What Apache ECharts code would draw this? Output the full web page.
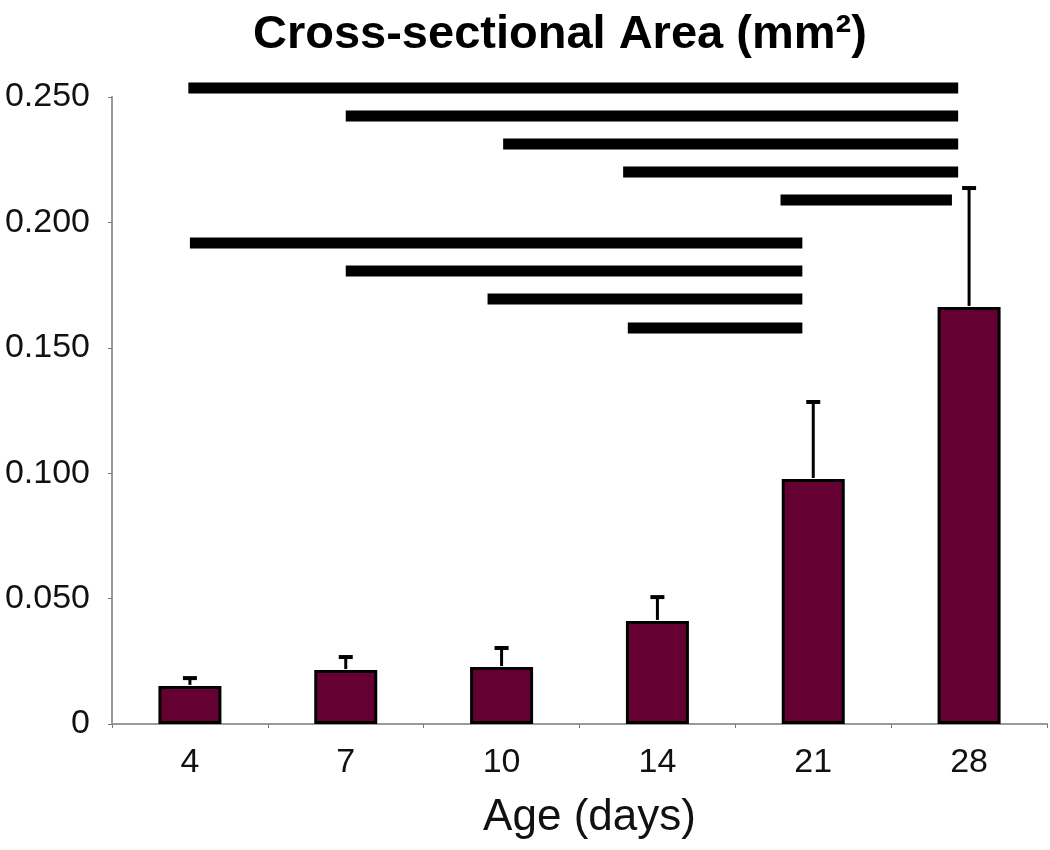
<!DOCTYPE html>
<html>
<head>
<meta charset="utf-8">
<script src="https://cdn.jsdelivr.net/npm/echarts@6/dist/echarts.min.js"></script>
<style>
html,body{margin:0;padding:0;background:#fff;}
#chart{width:1050px;height:850px;}
</style>
</head>
<body>
<div id="chart"></div>
<script>
// Data
var categories = ['4', '7', '10', '14', '21', '28'];
var meanArea = [0.0152, 0.0215, 0.0227, 0.0411, 0.0977, 0.1663];
var sdArea = [0.0035, 0.0056, 0.0080, 0.0099, 0.0311, 0.0478];
var yTicks = [0, 0.05, 0.10, 0.15, 0.20, 0.25];
// significance bars: [start, end] in category-position units (0..6), level in mm^2
var sigStart = [0.49, 1.50, 2.51, 3.28, 4.29, 0.50, 1.50, 2.41, 3.31];
var sigEnd   = [5.43, 5.43, 5.43, 5.43, 5.39, 4.43, 4.43, 4.43, 4.43];
var sigLevel = [0.2536, 0.2424, 0.2313, 0.2201, 0.2089, 0.1918, 0.1806, 0.1695, 0.1579];

var errData = categories.map(function (c, i) { return [i, meanArea[i], meanArea[i] + sdArea[i]]; });
var sigData = sigStart.map(function (s, i) { return [s, sigEnd[i], sigLevel[i]]; });

var chart = echarts.init(document.getElementById('chart'));
var font = 'Liberation Sans, Arial, Helvetica, sans-serif';
chart.setOption({
  animation: false,
  backgroundColor: '#ffffff',
  title: {
    text: 'Cross-sectional Area (mm\u00B2)',
    left: 248, top: 7,
    textStyle: { fontFamily: font, fontSize: 47, fontWeight: 'bold', color: '#000' }
  },
  grid: { left: 112, right: 3, top: 97, bottom: 126, containLabel: false },
  xAxis: [{
    type: 'category',
    data: categories,
    axisLine: { lineStyle: { color: '#9a9a9a', width: 2 } },
    axisTick: { show: true, length: 4, lineStyle: { color: '#777', width: 1 } },
    axisLabel: { fontFamily: font, fontSize: 34, color: '#111', margin: 22 },
    name: 'Age (days)',
    nameLocation: 'middle',
    nameGap: 72,
    nameTextStyle: { fontFamily: font, fontSize: 44, color: '#111', padding: [0, 0, 0, 20] }
  }, {
    type: 'value', min: 0, max: 6, show: false
  }],
  yAxis: {
    type: 'value',
    min: 0, max: 0.25, interval: 0.05,
    axisLine: { show: true, lineStyle: { color: '#9a9a9a', width: 2 } },
    axisTick: { show: true, length: 4, lineStyle: { color: '#777', width: 1 } },
    splitLine: { show: false },
    axisLabel: {
      fontFamily: font, fontSize: 34, color: '#111', margin: 22,
      formatter: function (v) { return v === 0 ? '0' : v.toFixed(3); }
    }
  },
  series: [{
    type: 'bar',
    data: meanArea,
    barWidth: 63,
    itemStyle: { color: '#650032', borderColor: '#000', borderWidth: 3 },
    z: 2
  }, {
    type: 'custom',
    data: errData,
    encode: { x: 0, y: [1, 2] },
    z: 3,
    clip: false,
    renderItem: function (params, api) {
      var b = api.coord([api.value(0), api.value(1)]);
      var t = api.coord([api.value(0), api.value(2)]);
      return {
        type: 'group',
        children: [{
          type: 'line',
          shape: { x1: b[0], y1: b[1] - 1, x2: t[0], y2: t[1] },
          style: { stroke: '#000', lineWidth: 3 }
        }, {
          type: 'line',
          shape: { x1: t[0] - 7, y1: t[1] + 1, x2: t[0] + 7, y2: t[1] + 1 },
          style: { stroke: '#000', lineWidth: 4 }
        }]
      };
    }
  }, {
    type: 'custom',
    xAxisIndex: 1,
    data: sigData,
    encode: { x: [0, 1], y: 2 },
    z: 4,
    clip: false,
    renderItem: function (params, api) {
      var a = api.coord([api.value(0), api.value(2)]);
      var b = api.coord([api.value(1), api.value(2)]);
      return {
        type: 'rect',
        shape: { x: a[0], y: a[1] - 5.5, width: b[0] - a[0], height: 11 },
        style: { fill: '#000' }
      };
    }
  }]
});
</script>
</body>
</html>
